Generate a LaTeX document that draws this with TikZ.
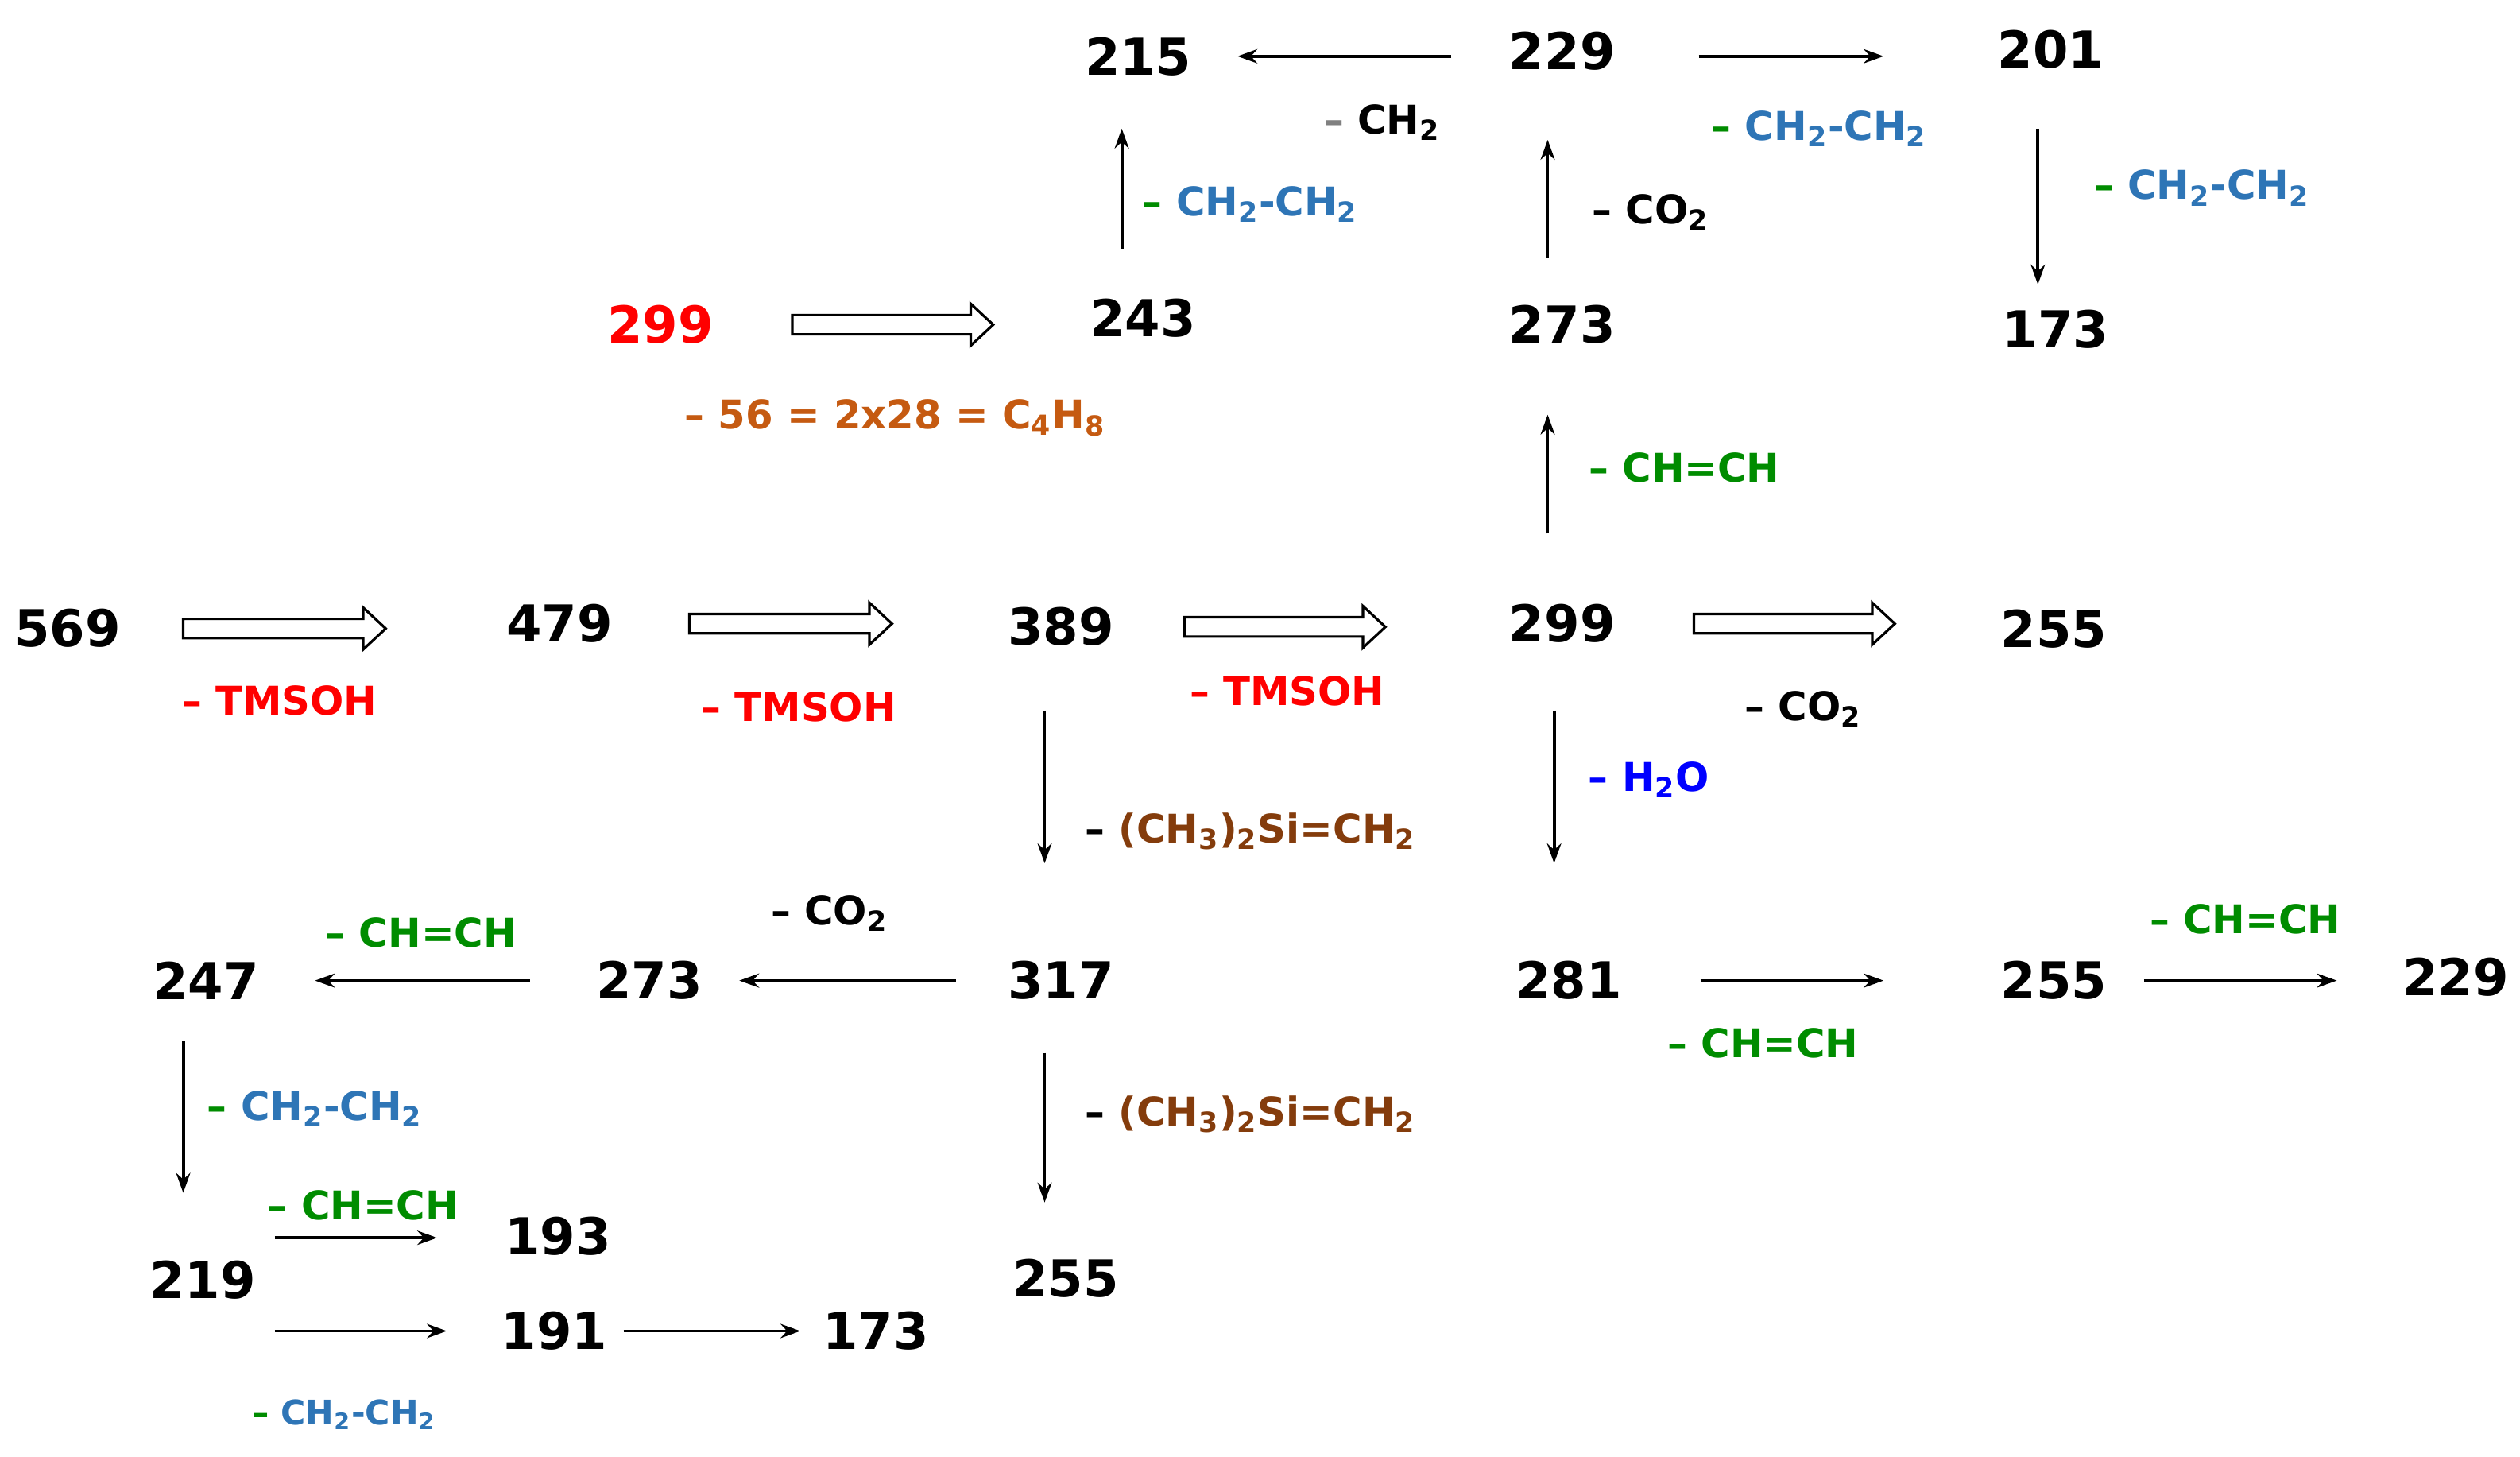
\documentclass[tikz,border=0pt]{standalone}
\usepackage{fontspec}
\setmainfont{DejaVu Sans}
\usetikzlibrary{arrows.meta,calc}
\definecolor{cgreen}{RGB}{0,140,0}
\definecolor{cblue}{RGB}{46,117,182}
\definecolor{cbrown}{RGB}{132,60,12}
\definecolor{corange}{RGB}{197,90,17}
\definecolor{cred}{RGB}{255,0,0}
\definecolor{hblue}{RGB}{0,0,255}
\newcommand{\gd}{{\color{cgreen}–}}
\newcommand{\sub}[1]{\textsubscript{#1}}
\begin{document}
\begin{tikzpicture}[x=0.02cm,y=-0.02cm,
  num/.style={font=\fontsize{18}{20}\selectfont\bfseries,inner sep=0pt},
  lab/.style={font=\fontsize{14}{16}\selectfont\bfseries,inner sep=0pt},
  arr/.style={line width=1.1pt,-{Stealth[length=7pt,width=5pt]}},
  hol/.style={line width=0.9pt,fill=white}]
\useasboundingbox (0,0) rectangle (1568,906);
\newcommand{\hollow}[3]{\draw[hol] ($#1+(#2,-6)$) -- ++(#3-14,0) -- ++(0,-7) -- ++(14,13) -- ++(-14,13) -- ++(0,-7) -- ++(-#3+14,0) -- cycle;}
% nodes
\node[num] (a215) at (708,35) {215};
\node[num] (a229) at (972,32) {229};
\node[num] (a201) at (1276,31) {201};
\node[num] (a243) at (711,198) {243};
\node[num] (a273) at (972,202) {273};
\node[num] (a173) at (1279,205) {173};
\node[num,text=cred] (b299) at (411,202) {299};
\node[num] (a569) at (42,391) {569};
\node[num] (a479) at (348,388) {479};
\node[num] (a389) at (660,390) {389};
\node[num] (a299) at (972,388) {299};
\node[num] (a255) at (1278,391) {255};
\node[num] (a317) at (660,610) {317};
\node[num] (a247) at (128,610) {247};
\node[num] (b273) at (404,610) {273};
\node[num] (a281) at (976,610) {281};
\node[num] (b255) at (1278,610) {255};
\node[num] (b229) at (1528,608) {229};
\node[num] (a219) at (126,796) {219};
\node[num] (a193) at (347,769) {193};
\node[num] (a191) at (345,828) {191};
\node[num] (b173) at (545,828) {173};
\node[num] (c255) at (663,795) {255};
% hollow arrows
\hollow{(b299)}{82}{125}
\hollow{(a569)}{72}{126}
\hollow{(a479)}{81}{126}
\hollow{(a389)}{77}{125}
\hollow{(a299)}{82}{125}
% arrows
\draw[arr] ($(a229)+(-69,3)$) -- ($(a215)+(62,0)$);
\draw[arr] ($(a229)+(85,3)$) -- ($(a201)+(-104,4)$);
\draw[arr] ($(a201)+(-8,49)$) -- ($(a173)+(-11,-28)$);
\draw[arr] ($(a243)+(-13,-43)$) -- ($(a215)+(-10,45)$);
\draw[arr] ($(a273)+(-9,-42)$) -- ($(a229)+(-9,55)$);
\draw[arr] ($(a299)+(-9,-56)$) -- ($(a273)+(-9,56)$);
\draw[arr] ($(a389)+(-10,52)$) -- ($(a317)+(-10,-73)$);
\draw[arr] ($(a299)+(-5,54)$) -- ($(a281)+(-9,-73)$);
\draw[arr] ($(a317)+(-65,0)$) -- ($(b273)+(56,0)$);
\draw[arr] ($(b273)+(-74,0)$) -- ($(a247)+(68,0)$);
\draw[arr] ($(a281)+(82,0)$) -- ($(b255)+(-106,0)$);
\draw[arr] ($(b255)+(56,0)$) -- ($(b229)+(-74,2)$);
\draw[arr] ($(a317)+(-10,45)$) -- ($(c255)+(-13,-47)$);
\draw[arr] ($(a247)+(-14,38)$) -- ($(a219)+(-12,-54)$);
\draw[arr] ($(a219)+(45,-26)$) -- ($(a193)+(-75,1)$);
\draw[arr] ($(a219)+(45,32)$) -- ($(a191)+(-67,0)$);
\draw[arr] ($(a191)+(43,0)$) -- ($(b173)+(-47,0)$);
% labels
\node[lab] (l1) at (860,76) {{\color{gray}–} CH\sub{2}};
\node[lab,text=cblue] (l2) at (1132,80) {\gd{} CH\sub{2}-CH\sub{2}};
\node[lab,text=cblue] (l3) at (1370,117) {\gd{} CH\sub{2}-CH\sub{2}};
\node[lab,text=cblue] (l4) at (778,127) {\gd{} CH\sub{2}-CH\sub{2}};
\node[lab] (l5) at (1027,132) {– CO\sub{2}};
\node[lab,text=cgreen] (l6) at (1048,291) {– CH=CH};
\node[lab,text=corange] (l7) at (557,260) {– 56 = 2x28 = C\sub{4}H\sub{8}};
\node[lab,text=cred] (l8) at (174,436) {– TMSOH};
\node[lab,text=cred] (l9) at (497,440) {– TMSOH};
\node[lab,text=cred] (l10) at (801,430) {– TMSOH};
\node[lab] (l11) at (1122,441) {– CO\sub{2}};
\node[lab,text=cbrown] (l12) at (778,517) {{\color{black}–} (CH\sub{3})\sub{2}Si=CH\sub{2}};
\node[lab,text=hblue] (l13) at (1026,485) {– H\sub{2}O};
\node[lab] (l14) at (516,568) {– CO\sub{2}};
\node[lab,text=cgreen] (l15) at (262,580) {– CH=CH};
\node[lab,text=cgreen] (l16) at (1097,649) {– CH=CH};
\node[lab,text=cgreen] (l17) at (1397,572) {– CH=CH};
\node[lab,text=cbrown] (l18) at (778,693) {{\color{black}–} (CH\sub{3})\sub{2}Si=CH\sub{2}};
\node[lab,text=cblue] (l19) at (196,690) {\gd{} CH\sub{2}-CH\sub{2}};
\node[lab,text=cgreen] (l20) at (226,750) {– CH=CH};
\node[lab,text=cblue,font=\fontsize{12}{14}\selectfont\bfseries] (l21) at (214,880) {\gd{} CH\sub{2}-CH\sub{2}};
\end{tikzpicture}
\end{document}
